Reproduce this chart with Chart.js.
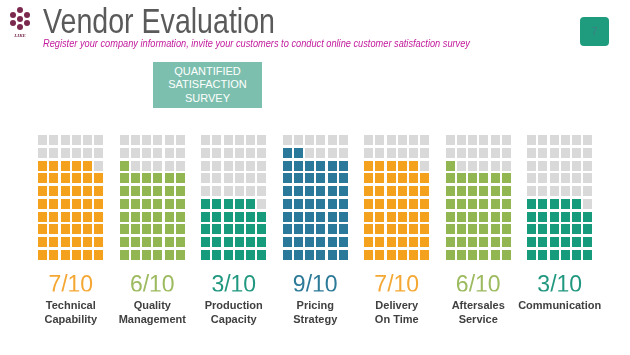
<!DOCTYPE html>
<html>
<head>
<meta charset="utf-8">
<script src="https://cdn.jsdelivr.net/npm/chart.js@4.4.1/dist/chart.umd.min.js"></script>
<style>
  html, body { margin: 0; padding: 0; background: #ffffff; }
  body { width: 630px; height: 355px; position: relative; overflow: hidden; font-family: "Liberation Sans", Arial, sans-serif; }
  #chart { position: absolute; left: 0; top: 0; }
  .abs { position: absolute; white-space: nowrap; }
  #title { left: 43px; top: 3px; font-size: 35px; line-height: 35px; color: #5a5a5a; transform-origin: 0 0; }
  #subtitle { left: 43px; top: 38px; font-size: 10px; line-height: 11px; font-style: italic; color: #c21a9c; transform-origin: 0 0; }
  #box { left: 153px; top: 62px; width: 109px; height: 46px; background: #7dbfae; color: #ffffff; font-size: 11px; line-height: 13.3px; text-align: center; display: flex; align-items: center; justify-content: center; }
  #badge { left: 580px; top: 17px; width: 29px; height: 29px; border-radius: 4px; background: #1f9c7e; color: #3f7f86; font-size: 11px; line-height: 29px; text-align: center; }
  .dot { position: absolute; width: 6px; height: 6px; border-radius: 50%; background: #7a2a4e; }
  #like { left: 11px; top: 33px; width: 18px; text-align: center; font-size: 5px; font-weight: bold; font-style: italic; color: #7a2a4e; font-family: "Liberation Serif", serif; }
</style>
</head>
<body>
<canvas id="chart" width="630" height="355"></canvas>
<div id="logo"></div>
<div id="like" class="abs">LIKE</div>
<div id="title" class="abs">Vendor Evaluation</div>
<div id="subtitle" class="abs">Register your company information, invite your customers to conduct online customer satisfaction survey</div>
<div id="box" class="abs">QUANTIFIED<br>SATISFACTION<br>SURVEY</div>
<div id="badge" class="abs">7</div>
<script>
// ---- data ----
const categories = [
  ['Technical', 'Capability'],
  ['Quality', 'Management'],
  ['Production', 'Capacity'],
  ['Pricing', 'Strategy'],
  ['Delivery', 'On Time'],
  ['Aftersales', 'Service'],
  ['Communication']
];
const scores = [7, 6, 3, 9, 7, 6, 3];
const scoreMax = 10;
const filledCells = [47, 43, 29, 50, 47, 43, 29];
const gridCols = 6;
const gridRows = 10;

// ---- styles ----
const cellColors = ['#f4a11d', '#92b652', '#169c7d', '#2a799a', '#f4a11d', '#92b652', '#169c7d'];
const textColors = ['#f5a733', '#9cba5e', '#20977f', '#2d7a98', '#f5a733', '#9cba5e', '#20977f'];
const emptyColor = '#d9d9d9';
const GROUP_STEP = 7.27;
const CELL_W = 9, CELL_H = 10;

// logo dots
const logo = document.getElementById('logo');
[[20,10],[20,18.5],[20,27],[13,14.5],[27,14.5],[13,23],[27,23]].forEach(([x,y]) => {
  const d = document.createElement('div'); d.className = 'dot';
  d.style.left = (x - 3) + 'px'; d.style.top = (y - 3) + 'px'; logo.appendChild(d);
});

// fit header text widths
function fitWidth(id, w) {
  const el = document.getElementById(id);
  const r = el.getBoundingClientRect().width;
  el.style.transform = 'scaleX(' + (w / r) + ')';
}
fitWidth('title', 232);
fitWidth('subtitle', 427);

function cellImage(color) {
  const c = document.createElement('canvas');
  c.width = CELL_W; c.height = CELL_H;
  const g = c.getContext('2d');
  g.fillStyle = color; g.fillRect(0, 0, CELL_W, CELL_H);
  return c;
}
const emptyImg = cellImage(emptyColor);
const filledImgs = cellColors.map(cellImage);

const datasets = categories.map((cat, g) => {
  const data = [];
  for (let i = 0; i < gridCols * gridRows; i++) {
    data.push({ x: g * GROUP_STEP + (i % gridCols), y: Math.floor(i / gridCols) });
  }
  return {
    label: cat.join(' '),
    data,
    pointStyle: ctx => ctx.dataIndex < filledCells[g] ? filledImgs[g] : emptyImg,
    pointRadius: 3,
    showLine: false
  };
});

const centers = categories.map((_, g) => g * GROUP_STEP + (gridCols - 1) / 2);

new Chart(document.getElementById('chart'), {
  type: 'scatter',
  data: { datasets },
  options: {
    responsive: false,
    animation: false,
    events: [],
    layout: { padding: { left: 37.15, right: 36.65, top: 133.6, bottom: 23.6 } },
    plugins: { legend: { display: false }, tooltip: { enabled: false } },
    scales: {
      x: {
        type: 'linear',
        position: 'bottom',
        weight: 0,
        min: -0.5,
        max: (categories.length - 1) * GROUP_STEP + gridCols - 0.5,
        grid: { display: false, drawTicks: false, tickLength: 0 },
        border: { display: false },
        afterBuildTicks: s => { s.ticks = centers.map(v => ({ value: v })); },
        afterFit: s => { s.height = 30; },
        ticks: {
          autoSkip: false, maxRotation: 0, padding: 13,
          callback: (v, i) => scores[i] + '/' + scoreMax,
          color: ctx => textColors[ctx.index],
          font: { family: '"Liberation Sans", Arial, sans-serif', size: 23, lineHeight: 1 }
        }
      },
      x2: {
        type: 'linear',
        position: 'bottom',
        weight: 1,
        min: -0.5,
        max: (categories.length - 1) * GROUP_STEP + gridCols - 0.5,
        grid: { display: false, drawTicks: false, tickLength: 0 },
        border: { display: false },
        afterBuildTicks: s => { s.ticks = centers.map(v => ({ value: v })); },
        afterFit: s => { s.height = 40; },
        ticks: {
          autoSkip: false, maxRotation: 0, padding: 8,
          callback: (v, i) => categories[i],
          color: '#404040',
          font: { family: '"Liberation Sans", Arial, sans-serif', size: 11, weight: 'bold', lineHeight: 1.23 }
        }
      },
      y: {
        type: 'linear', display: false, min: -0.5, max: gridRows - 0.5
      }
    }
  }
});
</script>
</body>
</html>
